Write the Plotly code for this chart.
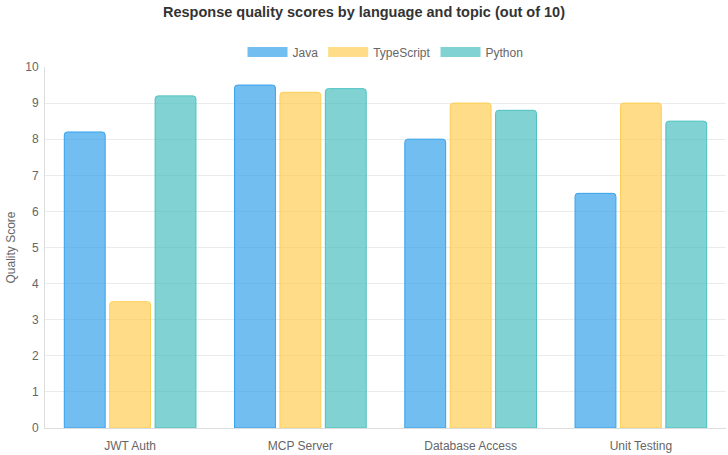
import plotly.graph_objs as go

topics = ['JWT Auth', 'MCP Server', 'Database Access', 'Unit Testing']
java = [8.2, 9.5, 8.0, 6.5]
typescript = [3.5, 9.3, 9.0, 9.0]
python = [9.2, 9.4, 8.8, 8.5]

series = [
    ('Java', java, 'rgba(54,162,235,0.7)', 'rgb(54,162,235)'),
    ('TypeScript', typescript, 'rgba(255,206,86,0.7)', 'rgb(255,206,86)'),
    ('Python', python, 'rgba(75,192,192,0.7)', 'rgb(75,192,192)'),
]

fig = go.Figure()

for name, vals, fill, line in series:
    fig.add_trace(go.Bar(
        x=topics,
        y=vals,
        name=name,
        legendgroup=name,
        showlegend=False,
        marker=dict(color=fill, line=dict(color=line, width=1), cornerradius=3),
        hovertemplate='%{x}<br>' + name + ': %{y}<extra></extra>'
    ))

# wide legend swatches like the original (empty traces, legend only)
for name, vals, fill, line in series:
    fig.add_trace(go.Scatter(
        x=[None], y=[None],
        mode='lines',
        name=name,
        legendgroup=name,
        line=dict(color=fill, width=12),
        hoverinfo='skip'
    ))

fig.update_layout(
    width=728,
    height=455,
    barmode='group',
    bargap=0.2,
    bargroupgap=0.1,
    plot_bgcolor='white',
    paper_bgcolor='white',
    font=dict(family='Liberation Sans, Arial, sans-serif', size=12, color='#666'),
    title=dict(
        text='<b>Response quality scores by language and topic (out of 10)</b>',
        x=0.5, xanchor='center',
        y=1 - 12 / 455, yanchor='middle',
        font=dict(size=14.5, color='#333')
    ),
    legend=dict(
        orientation='h',
        x=0.5, xanchor='center',
        y=1 + 15 / 361, yanchor='middle',
        font=dict(size=12, color='#666'),
        itemwidth=40
    ),
    margin=dict(l=45, r=2, t=67, b=27, autoexpand=False),
    xaxis=dict(
        automargin=False,
        showgrid=False,
        showline=True, linecolor='#ddd', linewidth=1,
        ticks='', ticklabelstandoff=7,
        tickfont=dict(size=12, color='#666')
    ),
    yaxis=dict(
        automargin=False,
        title=dict(text='Quality Score', font=dict(size=12, color='#666'), standoff=7),
        range=[0, 10],
        dtick=1,
        showgrid=True, gridcolor='#ebebeb',
        showline=True, linecolor='#ddd', linewidth=1,
        zeroline=False,
        ticks='', ticklabelstandoff=3,
        tickfont=dict(size=12, color='#666')
    )
)

# page body has a default margin, drop it so the chart sits at 0,0
fig.write_html('out.html', config={'displayModeBar': False},
               post_script="document.body.style.margin='0';")
